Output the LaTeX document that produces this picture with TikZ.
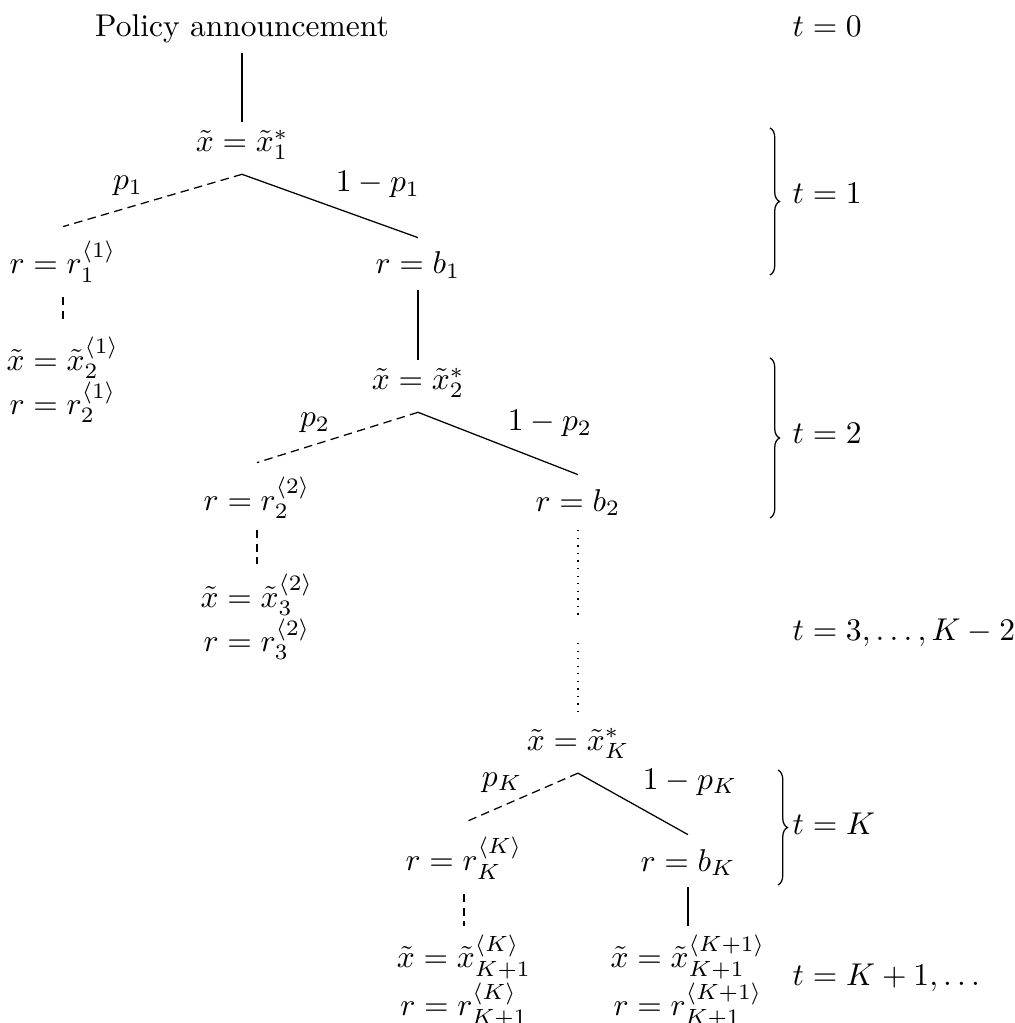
\documentclass[tikz,border=0pt]{standalone}
\usetikzlibrary{decorations.pathreplacing}
\begin{document}
\begin{tikzpicture}[x=0.3175pt,y=-0.3175pt,
  tn/.style={inner sep=4.4pt},
  lf/.style={inner sep=4.4pt, align=center},
  pl/.style={inner sep=0pt, anchor=base},
  tl/.style={inner sep=0pt, anchor=base west},
  br/.style={decorate, decoration={brace, amplitude=3pt}, line width=0.4pt},
  ln/.style={line width=0.4pt},
  dsh/.style={line width=0.4pt, dash pattern=on 2.7pt off 1.7pt},
  dtt/.style={line width=0.4pt, dotted}]
\useasboundingbox (0,0) rectangle (1014,1023);

% top
\node[pl] (pa) at (242,37) {Policy announcement};
\node[tl] (t0) at (792,37) {$t=0$};

% level 1
\node[tn, anchor=base] (x1) at (242,152) {$\tilde{x}=\tilde{x}_1^{*}$};
\node[tn, anchor=base] (r1) at (63,274) {$r=r_1^{\langle 1\rangle}$};
\node[tn, anchor=base] (b1) at (418,274) {$r=b_1$};
\node[lf] (l1) at (63,380) {$\tilde{x}=\tilde{x}_2^{\langle 1\rangle}$\\$r=r_2^{\langle 1\rangle}$};
\node[pl] (p1) at (128,190) {$p_1$};
\node[pl] (q1) at (378,192) {$1-p_1$};

% level 2
\node[tn, anchor=base] (x2) at (418,390) {$\tilde{x}=\tilde{x}_2^{*}$};
\node[tn, anchor=base] (r2) at (257,510) {$r=r_2^{\langle 2\rangle}$};
\node[tn, anchor=base] (b2) at (578,511) {$r=b_2$};
\node[lf] (l2) at (257,617) {$\tilde{x}=\tilde{x}_3^{\langle 2\rangle}$\\$r=r_3^{\langle 2\rangle}$};
\node[pl] (p2) at (315,427) {$p_2$};
\node[pl] (q2) at (550,431) {$1-p_2$};

% level K
\node[tn, anchor=base] (xK) at (578,750) {$\tilde{x}=\tilde{x}_K^{*}$};
\node[tn, anchor=base] (rK) at (464,870) {$r=r_K^{\langle K\rangle}$};
\node[tn, anchor=base] (bK) at (688,871) {$r=b_K$};
\node[lf] (lK) at (464,981) {$\tilde{x}=\tilde{x}_{K+1}^{\langle K\rangle}$\\$r=r_{K+1}^{\langle K\rangle}$};
\node[lf] (mK) at (688,981) {$\tilde{x}=\tilde{x}_{K+1}^{\langle K+1\rangle}$\\$r=r_{K+1}^{\langle K+1\rangle}$};
\node[pl] (pK) at (502,786) {$p_K$};
\node[pl] (qK) at (690,789) {$1-p_K$};

% time labels
\node[tl] (t1) at (792,204) {$t=1$};
\node[tl] (t2) at (792,444) {$t=2$};
\node[tl] (t3) at (792,640) {$t=3,\ldots,K-2$};
\node[tl] (tK) at (792,834) {$t=K$};
\node[tl] (tK1) at (792,985) {$t=K+1,\ldots$};

% braces
\coordinate (ba1) at (770,128); \coordinate (bb1) at (770,275);
\coordinate (ba2) at (770,358); \coordinate (bb2) at (770,518);
\coordinate (ba3) at (778,770); \coordinate (bb3) at (778,885);
\draw[br] (ba1) -- (bb1);
\draw[br] (ba2) -- (bb2);
\draw[br] (ba3) -- (bb3);

% connectors
\draw[ln] ([yshift=-2.8pt]pa.south) -- ([yshift=-2pt]x1.north);
\draw[dsh] (x1.south) -- (r1.north);
\draw[ln] (x1.south) -- (b1.north);
\draw[dsh] (r1.south) -- (l1.north);
\draw[ln] ([yshift=1pt]b1.south) -- ([yshift=-2pt]x2.north);
\draw[dsh] (x2.south) -- (r2.north);
\draw[ln] (x2.south) -- (b2.north);
\draw[dsh] ([yshift=1pt]r2.south) -- ([yshift=-1.5pt]l2.north);
\coordinate (d1) at (578,618);
\coordinate (d2) at (578,643);
\draw[dtt] (b2.south) -- (d1);
\draw[dtt] (d2) -- (xK.north);
\draw[dsh] (xK.south) -- (rK.north);
\draw[ln] (xK.south) -- (bK.north);
\draw[dsh] (rK.south) -- ([yshift=-2pt]lK.north);
\draw[ln] ([yshift=1pt]bK.south) -- ([yshift=-2pt]mK.north);
\end{tikzpicture}
\end{document}
